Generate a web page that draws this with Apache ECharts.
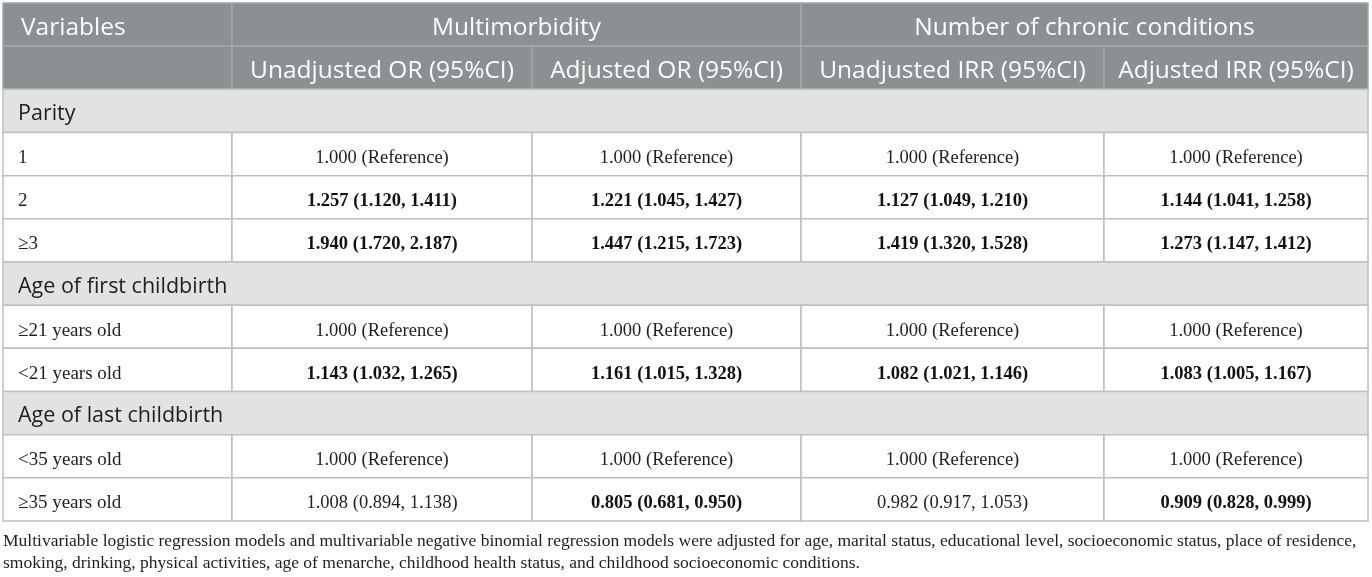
<!DOCTYPE html>
<html>
<head>
<meta charset="utf-8">
<title>Parity and multimorbidity</title>
<script src="https://cdn.jsdelivr.net/npm/echarts@6.0.0/dist/echarts.min.js"></script>
<style>
  html, body { margin: 0; padding: 0; background: #fff; }
  #container { width: 1372px; height: 577px; }
</style>
</head>
<body>
<div id="container"></div>
<script>
// table content
var groupHeaders = ['Multimorbidity', 'Number of chronic conditions'];
var columnHeaders = ['Unadjusted OR (95%CI)', 'Adjusted OR (95%CI)', 'Unadjusted IRR (95%CI)', 'Adjusted IRR (95%CI)'];
var sections = ['Parity', 'Age of first childbirth', 'Age of last childbirth'];
var rowLabels = [
	['1', '2', '\u22653'],
	['\u226521 years old', '<21 years old'],
	['<35 years old', '\u226535 years old']
];
var unadjustedOR = ['1.000 (Reference)', '1.257 (1.120, 1.411)', '1.940 (1.720, 2.187)',
	'1.000 (Reference)', '1.143 (1.032, 1.265)',
	'1.000 (Reference)', '1.008 (0.894, 1.138)'];
var adjustedOR = ['1.000 (Reference)', '1.221 (1.045, 1.427)', '1.447 (1.215, 1.723)',
	'1.000 (Reference)', '1.161 (1.015, 1.328)',
	'1.000 (Reference)', '0.805 (0.681, 0.950)'];
var unadjustedIRR = ['1.000 (Reference)', '1.127 (1.049, 1.210)', '1.419 (1.320, 1.528)',
	'1.000 (Reference)', '1.082 (1.021, 1.146)',
	'1.000 (Reference)', '0.982 (0.917, 1.053)'];
var adjustedIRR = ['1.000 (Reference)', '1.144 (1.041, 1.258)', '1.273 (1.147, 1.412)',
	'1.000 (Reference)', '1.083 (1.005, 1.167)',
	'1.000 (Reference)', '0.909 (0.828, 0.999)'];
var footnote = 'Multivariable logistic regression models and multivariable negative binomial regression models were adjusted for age, marital status, educational level, socioeconomic status, place of residence,\n' +
	'smoking, drinking, physical activities, age of menarche, childhood health status, and childhood socioeconomic conditions.';

// layout: column widths in px of the grid
var colWidths = [229, 300, 269, 303, 264];
var colEdges = [0];
for (var i = 0; i < colWidths.length; i++) colEdges.push(colEdges[i] + colWidths[i]);

var SANS = '"Open Sans", "Noto Sans", sans-serif';
var SERIF = '"Liberation Serif", "DejaVu Serif", serif';

// bold when the CI does not contain 1
function isSignificant(s) {
	var m = s.match(/\(([\d.]+), ([\d.]+)\)/);
	if (!m) return false;
	return parseFloat(m[1]) > 1 || parseFloat(m[2]) < 1;
}

// build cells
var cells = [];
var rowIds = [];
function addCell(c0, c1, row, text, kind, align) {
	cells.push({c0: c0, c1: c1, row: row, text: text, kind: kind, align: align || 'center'});
}
rowIds.push('head1');
addCell(0, 1, 0, 'Variables', 'head', 'left');
addCell(1, 3, 0, groupHeaders[0], 'head');
addCell(3, 5, 0, groupHeaders[1], 'head');
rowIds.push('head2');
addCell(0, 1, 1, '', 'head');
columnHeaders.forEach(function (h, j) { addCell(j + 1, j + 2, 1, h, 'head'); });

var valueCols = [unadjustedOR, adjustedOR, unadjustedIRR, adjustedIRR];
var k = 0;
sections.forEach(function (sec, s) {
	var r = rowIds.length;
	rowIds.push(sec);
	addCell(0, 5, r, sec, 'section', 'left');
	rowLabels[s].forEach(function (lab) {
		var rr = rowIds.length;
		rowIds.push(sec + '|' + lab);
		addCell(0, 1, rr, lab, 'label', 'left');
		valueCols.forEach(function (col, j) {
			addCell(j + 1, j + 2, rr, col[k], isSignificant(col[k]) ? 'bold' : 'body');
		});
		k++;
	});
});

var styles = {
	head: {fill: '#8b9092', stroke: '#a3a8a9', color: '#ffffff', font: '24.5px ' + SANS, dy: 3},
	section: {fill: '#e1e3e2', stroke: '#bfc1c1', color: '#1e1e1e', font: '21.5px ' + SANS, dy: 3},
	label: {fill: '#ffffff', stroke: '#bfbfbf', color: '#1e1e1e', font: '19px ' + SERIF, dy: 4},
	body: {fill: '#ffffff', stroke: '#bfbfbf', color: '#1e1e1e', font: '18.5px ' + SERIF, dy: 4},
	bold: {fill: '#ffffff', stroke: '#bfbfbf', color: '#111111', font: 'bold 18.5px ' + SERIF, dy: 4}
};

function renderCell(params, api) {
	var cell = cells[params.dataIndex];
	var p0 = api.coord([api.value(0), api.value(1)]);
	var p1 = api.coord([api.value(2), api.value(1)]);
	var h = api.size([0, 1])[1];
	var st = styles[cell.kind];
	var x = p0[0], y = p0[1] - h / 2, w = p1[0] - p0[0];
	var pad = cell.kind === 'head' ? 18 : 15;
	return {
		type: 'group',
		children: [{
			type: 'rect',
			shape: {x: x, y: y, width: w, height: h},
			style: {fill: st.fill, stroke: st.stroke, lineWidth: 1.5}
		}, {
			type: 'text',
			style: {
				text: cell.text,
				x: cell.align === 'left' ? x + pad : x + w / 2,
				y: y + h / 2 + st.dy,
				textAlign: cell.align,
				textVerticalAlign: 'middle',
				fill: st.color,
				font: st.font
			}
		}]
	};
}

var myChart = echarts.init(document.getElementById('container'));
var option = {
	animation: false,
	grid: {left: 3, top: 3, width: colEdges[colEdges.length - 1], height: 518},
	xAxis: {type: 'value', min: 0, max: colEdges[colEdges.length - 1], show: false},
	yAxis: {type: 'category', data: rowIds, inverse: true, show: false},
	graphic: [{
		type: 'text',
		left: 3,
		top: 530,
		style: {text: footnote, font: '17.5px ' + SERIF, fill: '#1e1e1e', lineHeight: 22}
	}],
	series: [{
		type: 'custom',
		renderItem: renderCell,
		encode: {x: [0, 2], y: 1},
		data: cells.map(function (c) { return [colEdges[c.c0], c.row, colEdges[c.c1]]; })
	}]
};
myChart.setOption(option);
</script>
</body>
</html>
